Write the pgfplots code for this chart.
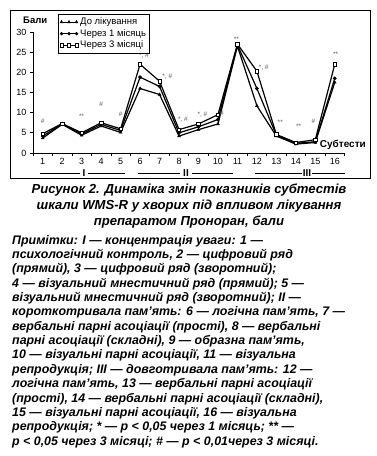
\documentclass[border=0pt]{standalone}
\usepackage{pgfplots}
\pgfplotsset{compat=1.18}
\usepackage{fontspec}
\setmainfont{Liberation Sans}
\begin{document}
\begin{tikzpicture}
\useasboundingbox (0pt,0pt) rectangle (377pt,-456pt);
\fill[white] (0pt,0pt) rectangle (377pt,-456pt);
\draw[line width=0.9pt] (10pt,-10pt) rectangle (370pt,-178pt);
\begin{axis}[
  at={(33pt,-153pt)}, anchor=south west,
  scale only axis, width=311.5pt, height=121pt,
  xmin=0.5, xmax=16.5, ymin=0, ymax=30,
  axis x line*=bottom, axis y line*=left,
  axis line style={line width=0.9pt},
  xtick={1,...,16},
  xticklabels={1,2,3,4,5,6,7,8,9,10,11,12,13,14,15,16},
  minor xtick={0.5,1.5,...,16.5},
  major x tick style={draw=none},
  ytick={0,5,...,30},
  tick align=outside,
  major tick length=3pt, minor tick length=3pt,
  tick style={line width=0.7pt, black},
  /pgf/number format/assume math mode=true,
  tick label style={font=\fontsize{9}{9}\selectfont},
  xticklabel style={yshift=1pt},
  legend style={at={(rel axis cs:0.0803,1.148)}, anchor=north west,
    draw=black, line width=0.6pt, font=\fontsize{9.5}{10}\selectfont,
    inner xsep=1.5pt, inner ysep=1.5pt, row sep=-0.8pt, cells={anchor=west}},
  legend image code/.code={\draw[#1, line width=0.9pt] plot coordinates {(0pt,0pt) (7.5pt,0pt) (15pt,0pt)};},
  clip=false,
]
\addplot[black, line width=1.2pt, mark=triangle*, mark size=1.6pt, mark options={solid, line width=0.5pt}] coordinates {
 (1,3.7) (2,7.1) (3,4.4) (4,6.7) (5,5.1) (6,16.0) (7,14.5) (8,4.2)
 (9,5.8) (10,7.2) (11,26.5) (12,11.7) (13,4.2) (14,2.2) (15,2.6) (16,17.5)};
\addlegendentry{До лікування}
\addplot[black, line width=1.2pt, mark=*, mark size=1.2pt, mark options={solid}] coordinates {
 (1,4.2) (2,7.2) (3,4.7) (4,7.1) (5,5.6) (6,18.8) (7,16.5) (8,5.0)
 (9,6.5) (10,8.3) (11,26.8) (12,16.0) (13,4.4) (14,2.4) (15,2.8) (16,18.5)};
\addlegendentry{Через 1 місяць}
\addplot[black, line width=1.2pt, mark=square*, mark size=1.7pt, mark options={solid, fill=white, line width=0.6pt}] coordinates {
 (1,4.8) (2,7.3) (3,5.0) (4,7.5) (5,6.0) (6,22.0) (7,17.8) (8,5.8)
 (9,7.2) (10,9.5) (11,27.0) (12,20.3) (13,4.6) (14,2.6) (15,3.3) (16,22.0)};
\addlegendentry{Через 3 місяці}
\addplot[draw=none, mark=none, nodes near coords, point meta=explicit symbolic,
  nodes near coords style={anchor=center, inner sep=0pt, font=\fontsize{6.5}{6.5}\selectfont, text=black!65}]
  table[meta=label, row sep=\\] {
 x y label\\
 1 7.8 \#\\
 3 9.2 **\\
 4 12.0 \#\\
 5 9.6 \#\\
 6.2 24.2 {*, \#}\\
 7.4 18.9 {*, \#}\\
 8.2 8.2 {*, \#}\\
 9.2 9.5 {*, \#}\\
 10.2 9.9 \#\\
 10.95 28.3 **\\
 12.35 21.1 {*, \#}\\
 13.2 7.6 **\\
 14.15 6.6 **\\
 14.9 7.8 \#\\
 16.05 24.6 **\\
};
\end{axis}
\node[anchor=base west, font=\fontsize{9.5}{10}\selectfont\bfseries, inner sep=0pt] at (23pt,-23pt) {Бали};
\node[anchor=base east, font=\fontsize{10}{10}\selectfont\bfseries, inner sep=0pt] at (366pt,-147pt) {Субтести};
\begin{scope}[line width=0.6pt]
\draw (40pt,-173pt) -- (80pt,-173pt);
\draw (88pt,-173pt) -- (125pt,-173pt);
\draw (138pt,-173pt) -- (180pt,-173pt);
\draw (192pt,-173pt) -- (233pt,-173pt);
\draw (255pt,-173pt) -- (302pt,-173pt);
\draw (312pt,-173pt) -- (345pt,-173pt);
\end{scope}
\begin{scope}[every node/.style={anchor=base, inner sep=0pt, font=\fontsize{10}{10}\selectfont\bfseries}]
\node at (84pt,-176pt) {I};
\node at (186pt,-176pt) {II};
\node at (307pt,-176pt) {III};
\end{scope}
\begin{scope}[every node/.style={anchor=base, inner sep=0pt, font=\fontsize{13.1}{14}\selectfont\bfseries\itshape}]
\node at (189pt,-193pt) {Рисунок 2. Динаміка змін показників субтестів};
\node at (189pt,-209pt) {шкали WMS-R у хворих під впливом лікування};
\node at (189pt,-225pt) {препаратом Проноран, бали};
\end{scope}
\begin{scope}[every node/.style={anchor=base west, inner sep=0pt, font=\fontsize{12.4}{13}\selectfont\bfseries\itshape}]
\node at (12pt,-244pt) {Примітки: I — концентрація уваги: 1 —};
\node at (12pt,-258.4pt) {психологічний контроль, 2 — цифровий ряд};
\node at (12pt,-272.7pt) {(прямий), 3 — цифровий ряд (зворотний);};
\node at (12pt,-287.1pt) {4 — візуальний мнестичний ряд (прямий); 5 —};
\node at (12pt,-301.4pt) {візуальний мнестичний ряд (зворотний); II —};
\node at (12pt,-315.8pt) {короткотривала пам’ять: 6 — логічна пам’ять, 7 —};
\node at (12pt,-330.2pt) {вербальні парні асоціації (прості), 8 — вербальні};
\node at (12pt,-344.5pt) {парні асоціації (складні), 9 — образна пам’ять,};
\node at (12pt,-358.9pt) {10 — візуальні парні асоціації, 11 — візуальна};
\node at (12pt,-373.2pt) {репродукція; III — довготривала пам’ять: 12 —};
\node at (12pt,-387.6pt) {логічна пам’ять, 13 — вербальні парні асоціації};
\node at (12pt,-402.0pt) {(прості), 14 — вербальні парні асоціації (складні),};
\node at (12pt,-416.3pt) {15 — візуальні парні асоціації, 16 — візуальна};
\node at (12pt,-430.7pt) {репродукція; * — p < 0,05 через 1 місяць; ** —};
\node at (12pt,-445pt) {p < 0,05 через 3 місяці; \# — p < 0,01через 3 місяці.};
\end{scope}
\end{tikzpicture}
\end{document}
